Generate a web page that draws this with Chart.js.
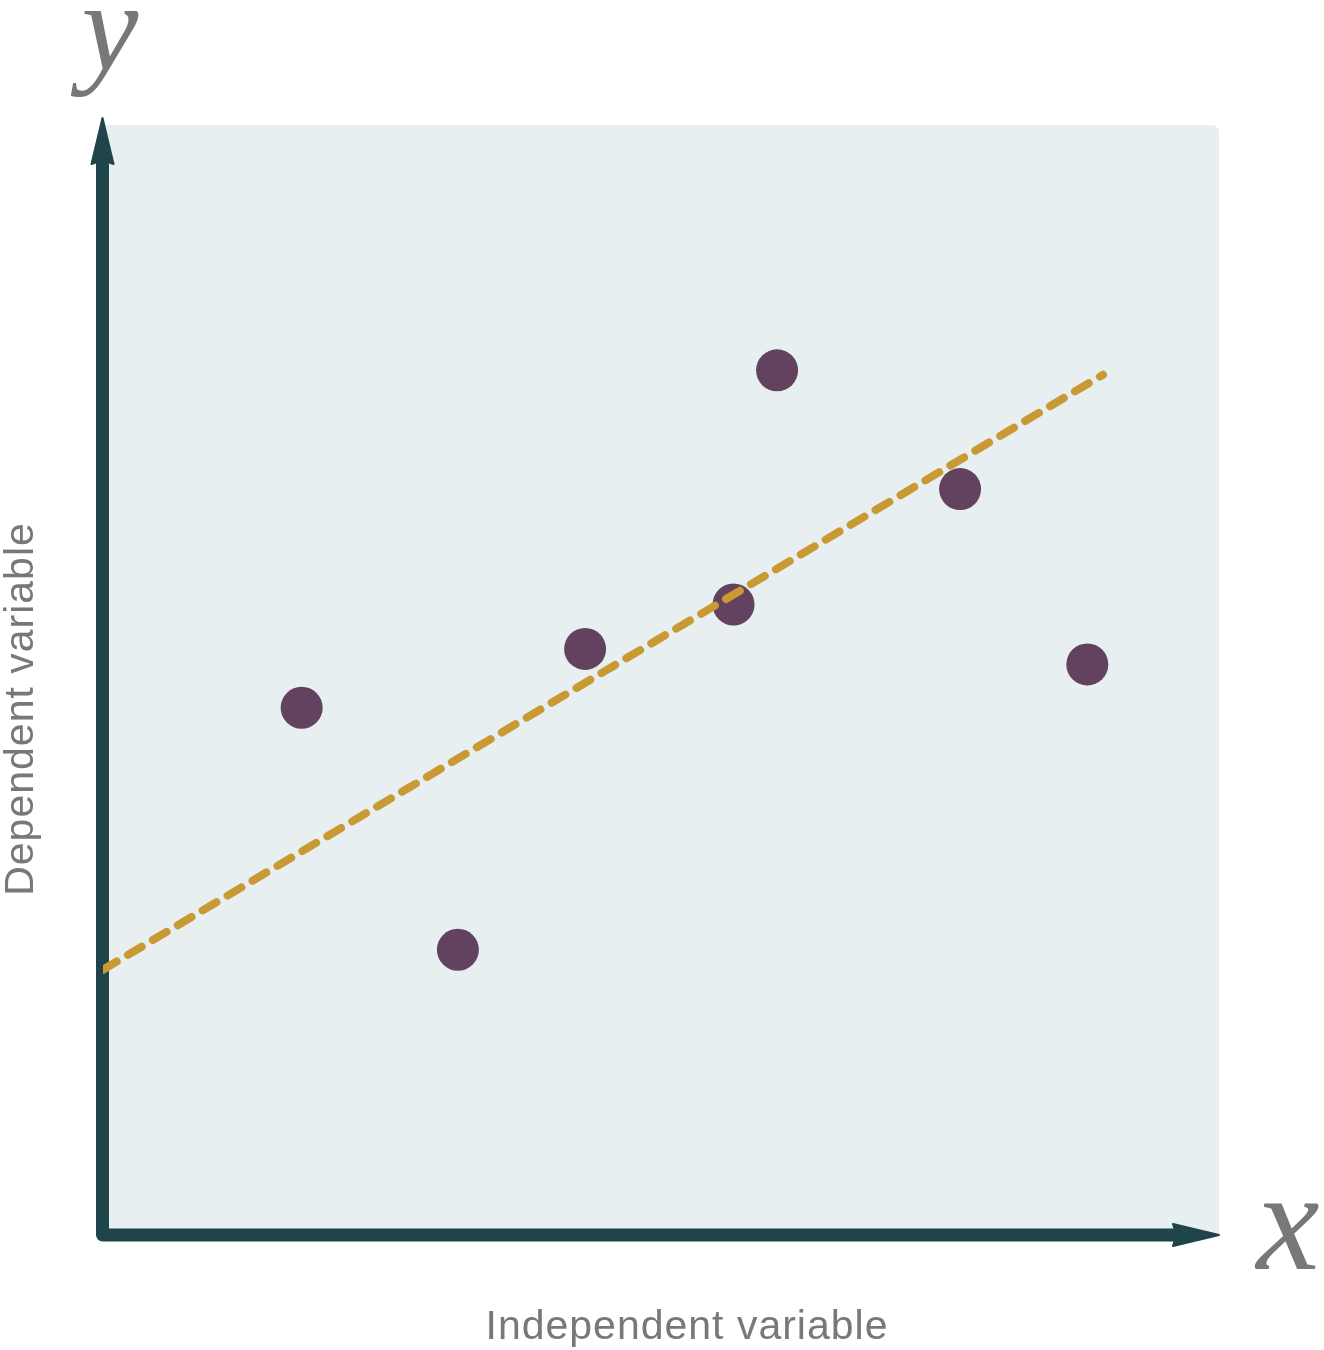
<!DOCTYPE html>
<html>
<head>
<meta charset="utf-8">
<script src="https://cdn.jsdelivr.net/npm/chart.js@4"></script>
<style>
  html, body { margin: 0; padding: 0; background: #ffffff; }
  #wrap { width: 1324px; height: 1350px; position: relative; }
</style>
</head>
<body>
<div id="wrap"><canvas id="c" width="1324" height="1350"></canvas></div>
<script>
// ---- data ----
const pointX = [1.78, 3.18, 4.32, 5.65, 6.04, 7.68, 8.82];
const pointY = [4.75, 2.57, 5.28, 5.68, 7.79, 6.72, 5.14];
const trendX = [0, 8.96];
const trendY = [2.39, 7.75];
const xAxisLabel = 'Independent variable';
const yAxisLabel = 'Dependent variable';
const xSymbol = 'x';
const ySymbol = 'y';

// ---- styles ----
const BG = '#e7eff1';
const AXIS = '#1f4449';
const POINT = '#63425f';
const TREND = '#c99a34';
const TEXT = '#787878';

const scatterData = pointX.map((x, i) => ({ x: x, y: pointY[i] }));
const trendData = trendX.map((x, i) => ({ x: x, y: trendY[i] }));

const decor = {
  id: 'decor',
  beforeDatasetsDraw(chart) {
    const { ctx, chartArea: a } = chart;
    ctx.save();
    const r = 8;
    ctx.fillStyle = BG;
    ctx.beginPath();
    ctx.moveTo(a.left, a.top);
    ctx.lineTo(a.right - r, a.top);
    ctx.quadraticCurveTo(a.right, a.top, a.right, a.top + r);
    ctx.lineTo(a.right, a.bottom);
    ctx.lineTo(a.left, a.bottom);
    ctx.closePath();
    ctx.fill();

    const ax = a.left - 0.5;
    const ay = a.bottom;
    ctx.strokeStyle = AXIS;
    ctx.fillStyle = AXIS;
    ctx.lineWidth = 13;
    ctx.lineCap = 'round';
    ctx.lineJoin = 'round';
    ctx.beginPath();
    ctx.moveTo(ax, a.top + 40);
    ctx.lineTo(ax, ay);
    ctx.lineTo(a.right - 45, ay);
    ctx.stroke();
    ctx.lineCap = 'butt';
    ctx.lineWidth = 2;
    ctx.beginPath();
    ctx.moveTo(ax, a.top - 7);
    ctx.lineTo(ax + 11, a.top + 39);
    ctx.quadraticCurveTo(ax, a.top + 34, ax - 11, a.top + 39);
    ctx.closePath();
    ctx.fill();
    ctx.stroke();
    ctx.beginPath();
    ctx.moveTo(a.right, ay);
    ctx.lineTo(a.right - 46, ay - 11);
    ctx.quadraticCurveTo(a.right - 41, ay, a.right - 46, ay + 11);
    ctx.closePath();
    ctx.fill();
    ctx.stroke();
    ctx.restore();
  },
  afterDraw(chart) {
    const { ctx } = chart;
    ctx.save();
    ctx.fillStyle = TEXT;
    ctx.textAlign = 'center';
    ctx.textBaseline = 'alphabetic';
    ctx.font = 'italic 128px "Liberation Serif", "DejaVu Serif", serif';
    ctx.fillText(ySymbol, 110, 70);
    ctx.font = 'italic 142px "Liberation Serif", "DejaVu Serif", serif';
    ctx.fillText(xSymbol, 1288, 1269);
    ctx.font = '41px "Liberation Sans", Arial, sans-serif';
    try { ctx.letterSpacing = '1px'; } catch (e) {}
    ctx.fillText(xAxisLabel, 687, 1339);
    ctx.save();
    ctx.translate(33, 709);
    ctx.rotate(-Math.PI / 2);
    ctx.fillText(yAxisLabel, 0, 0);
    ctx.restore();
    ctx.restore();
  }
};

new Chart(document.getElementById('c'), {
  type: 'scatter',
  data: {
    datasets: [
      {
        type: 'line',
        label: 'trend',
        data: trendData,
        borderColor: TREND,
        borderWidth: 8,
        borderDash: [16, 13],
        borderCapStyle: 'round',
        pointRadius: 0,
        fill: false,
        order: 1
      },
      {
        type: 'scatter',
        label: 'points',
        data: scatterData,
        backgroundColor: POINT,
        borderWidth: 0,
        pointRadius: 21,
        pointHoverRadius: 21,
        order: 2
      }
    ]
  },
  options: {
    responsive: false,
    animation: false,
    devicePixelRatio: 1,
    layout: { padding: { left: 103, top: 125, right: 105, bottom: 115 } },
    plugins: { legend: { display: false }, tooltip: { enabled: false } },
    scales: {
      x: { type: 'linear', min: 0, max: 10, display: false },
      y: { type: 'linear', min: 0, max: 10, display: false }
    }
  },
  plugins: [decor]
});
</script>
</body>
</html>
